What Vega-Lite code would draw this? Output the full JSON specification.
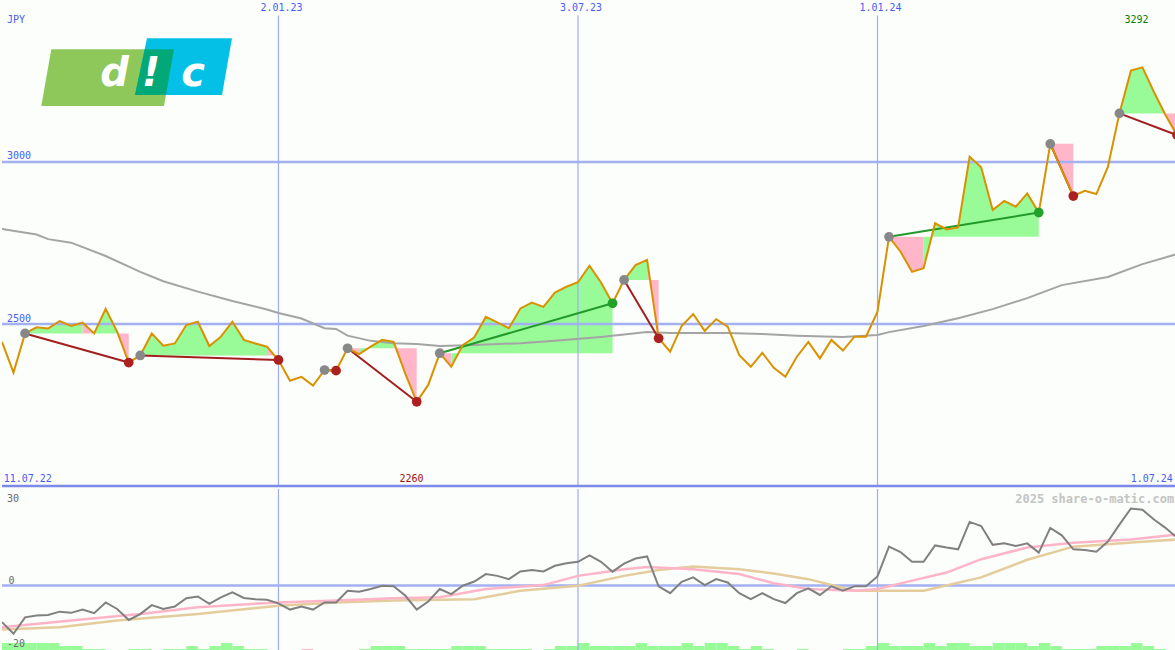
{
  "$schema": "https://vega.github.io/schema/vega-lite/v6.json",
  "background": "#fbfefb",
  "padding": 0,
  "spacing": 0,
  "config": {"view": {"stroke": null}},
  "datasets": {
    "wk": [
      {"d":"2022-07-18","p":2445,"mo":-12.3},{"d":"2022-07-25","p":2350,"mo":-16.2},{"d":"2022-08-01","p":2471,"mo":-10.7},{"d":"2022-08-08","p":2490,"mo":-10.1},
      {"d":"2022-08-15","p":2486,"mo":-9.9},{"d":"2022-08-22","p":2509,"mo":-8.8},{"d":"2022-08-29","p":2494,"mo":-9.2},{"d":"2022-09-05","p":2504,"mo":-8.1},
      {"d":"2022-09-12","p":2471,"mo":-9.3},{"d":"2022-09-19","p":2547,"mo":-5.7},{"d":"2022-09-26","p":2476,"mo":-7.9},{"d":"2022-10-03","p":2381,"mo":-11.6},
      {"d":"2022-10-10","p":2403,"mo":-9.6},{"d":"2022-10-17","p":2471,"mo":-6.6},{"d":"2022-10-24","p":2433,"mo":-7.9},{"d":"2022-10-31","p":2440,"mo":-7.1},
      {"d":"2022-11-07","p":2497,"mo":-4.3},{"d":"2022-11-14","p":2507,"mo":-3.7},{"d":"2022-11-21","p":2432,"mo":-6.2},{"d":"2022-11-28","p":2461,"mo":-4.0},
      {"d":"2022-12-05","p":2507,"mo":-2.3},{"d":"2022-12-12","p":2451,"mo":-4.2},{"d":"2022-12-19","p":2440,"mo":-4.6},{"d":"2022-12-26","p":2430,"mo":-4.8},
      {"d":"2023-01-02","p":2389,"mo":-6.0},{"d":"2023-01-09","p":2325,"mo":-8.1},{"d":"2023-01-16","p":2337,"mo":-7.1},{"d":"2023-01-23","p":2310,"mo":-8.1},
      {"d":"2023-01-30","p":2358,"mo":-5.7},{"d":"2023-02-06","p":2356,"mo":-5.7},{"d":"2023-02-13","p":2425,"mo":-1.8},{"d":"2023-02-20","p":2407,"mo":-2.1},
      {"d":"2023-02-27","p":2430,"mo":-1.2},{"d":"2023-03-06","p":2451,"mo":-0.1},{"d":"2023-03-13","p":2445,"mo":-0.3},{"d":"2023-03-20","p":2348,"mo":-3.4},
      {"d":"2023-03-27","p":2260,"mo":-8.1},{"d":"2023-04-03","p":2312,"mo":-5.4},{"d":"2023-04-10","p":2410,"mo":-1.2},{"d":"2023-04-17","p":2368,"mo":-2.9},
      {"d":"2023-04-24","p":2435,"mo":-0.1},{"d":"2023-05-01","p":2459,"mo":1.3},{"d":"2023-05-08","p":2522,"mo":3.8},{"d":"2023-05-15","p":2505,"mo":3.2},
      {"d":"2023-05-22","p":2487,"mo":2.1},{"d":"2023-05-29","p":2548,"mo":4.7},{"d":"2023-06-05","p":2566,"mo":5.2},{"d":"2023-06-12","p":2553,"mo":4.7},
      {"d":"2023-06-19","p":2597,"mo":6.6},{"d":"2023-06-26","p":2615,"mo":7.4},{"d":"2023-07-03","p":2629,"mo":7.9},{"d":"2023-07-10","p":2680,"mo":10.1},
      {"d":"2023-07-17","p":2628,"mo":7.9},{"d":"2023-07-24","p":2564,"mo":4.6},{"d":"2023-07-31","p":2636,"mo":7.3},{"d":"2023-08-07","p":2682,"mo":9.0},
      {"d":"2023-08-14","p":2698,"mo":9.7},{"d":"2023-08-21","p":2456,"mo":-0.3},{"d":"2023-08-28","p":2415,"mo":-2.6},{"d":"2023-09-04","p":2494,"mo":1.2},
      {"d":"2023-09-11","p":2531,"mo":2.7},{"d":"2023-09-18","p":2479,"mo":0.1},{"d":"2023-09-25","p":2515,"mo":2.1},{"d":"2023-10-02","p":2492,"mo":1.0},
      {"d":"2023-10-09","p":2404,"mo":-2.6},{"d":"2023-10-16","p":2368,"mo":-4.6},{"d":"2023-10-23","p":2411,"mo":-2.6},{"d":"2023-10-30","p":2365,"mo":-4.6},
      {"d":"2023-11-06","p":2337,"mo":-5.9},{"d":"2023-11-13","p":2399,"mo":-2.6},{"d":"2023-11-20","p":2445,"mo":-1.0},{"d":"2023-11-27","p":2394,"mo":-3.2},
      {"d":"2023-12-04","p":2451,"mo":-0.3},{"d":"2023-12-11","p":2418,"mo":-1.8},{"d":"2023-12-18","p":2461,"mo":-0.3},{"d":"2023-12-25","p":2461,"mo":-0.3},
      {"d":"2024-01-01","p":2538,"mo":3.0},{"d":"2024-01-08","p":2769,"mo":13.0},{"d":"2024-01-15","p":2723,"mo":11.2},{"d":"2024-01-22","p":2661,"mo":7.9},
      {"d":"2024-01-29","p":2672,"mo":7.9},{"d":"2024-02-05","p":2811,"mo":13.4},{"d":"2024-02-12","p":2792,"mo":12.7},{"d":"2024-02-19","p":2798,"mo":12.1},
      {"d":"2024-02-26","p":3016,"mo":21.3},{"d":"2024-03-04","p":2984,"mo":19.9},{"d":"2024-03-11","p":2852,"mo":13.6},{"d":"2024-03-18","p":2880,"mo":14.1},
      {"d":"2024-03-25","p":2862,"mo":13.2},{"d":"2024-04-01","p":2903,"mo":14.1},{"d":"2024-04-08","p":2844,"mo":11.0},{"d":"2024-04-15","p":3056,"mo":19.3},
      {"d":"2024-04-22","p":2975,"mo":16.8},{"d":"2024-04-29","p":2895,"mo":12.1},{"d":"2024-05-06","p":2911,"mo":11.9},{"d":"2024-05-13","p":2901,"mo":11.3},
      {"d":"2024-05-20","p":2985,"mo":14.7},{"d":"2024-05-27","p":3150,"mo":20.4},{"d":"2024-06-03","p":3282,"mo":25.8},{"d":"2024-06-10","p":3292,"mo":25.4},
      {"d":"2024-06-17","p":3216,"mo":22.1},{"d":"2024-06-24","p":3145,"mo":19.3},{"d":"2024-07-01","p":3083,"mo":16.0}
    ],
    "ma": [
      {"d":"2022-07-18","p":2793},{"d":"2022-08-08","p":2776},{"d":"2022-08-15","p":2762},{"d":"2022-08-29","p":2751},
      {"d":"2022-09-19","p":2710},{"d":"2022-10-10","p":2661},{"d":"2022-10-24","p":2632},{"d":"2022-11-14","p":2600},
      {"d":"2022-12-05","p":2571},{"d":"2022-12-26","p":2545},{"d":"2023-01-02","p":2534},{"d":"2023-01-16","p":2517},
      {"d":"2023-01-30","p":2487},{"d":"2023-02-06","p":2485},{"d":"2023-02-13","p":2464},{"d":"2023-02-27","p":2448},
      {"d":"2023-03-13","p":2441},{"d":"2023-03-27","p":2438},{"d":"2023-04-10","p":2432},{"d":"2023-05-01","p":2435},
      {"d":"2023-05-29","p":2441},{"d":"2023-06-19","p":2448},{"d":"2023-07-17","p":2460},{"d":"2023-08-14","p":2475},
      {"d":"2023-08-28","p":2472},{"d":"2023-10-02","p":2472},{"d":"2023-10-23","p":2469},{"d":"2023-11-13","p":2464},
      {"d":"2023-12-11","p":2460},{"d":"2024-01-01","p":2466},{"d":"2024-01-08","p":2475},{"d":"2024-01-29","p":2494},
      {"d":"2024-02-19","p":2518},{"d":"2024-03-11","p":2546},{"d":"2024-04-01","p":2580},{"d":"2024-04-22","p":2620},
      {"d":"2024-05-20","p":2645},{"d":"2024-06-10","p":2685},{"d":"2024-07-01","p":2716}
    ],
    "fill": [
      {"d":"2022-08-01","p":2471,"b":2471,"band":"A1","c":"g"},{"d":"2022-08-08","p":2490,"b":2471,"band":"A1","c":"g"},{"d":"2022-08-15","p":2486,"b":2471,"band":"A1","c":"g"},
      {"d":"2022-08-22","p":2509,"b":2471,"band":"A1","c":"g"},{"d":"2022-08-29","p":2494,"b":2471,"band":"A1","c":"g"},{"d":"2022-09-05","p":2504,"b":2471,"band":"A1","c":"g"},
      {"d":"2022-09-05","p":2504,"b":2471,"band":"A2","c":"r"},{"d":"2022-09-12","p":2471,"b":2471,"band":"A2","c":"r"},
      {"d":"2022-09-12","p":2471,"b":2471,"band":"A3","c":"g"},{"d":"2022-09-19","p":2547,"b":2471,"band":"A3","c":"g"},{"d":"2022-09-26","p":2476,"b":2471,"band":"A3","c":"g"},
      {"d":"2022-09-26","p":2476,"b":2471,"band":"A4","c":"r"},{"d":"2022-10-03","p":2381,"b":2471,"band":"A4","c":"r"},
      {"d":"2022-10-10","p":2403,"b":2403,"band":"B1","c":"g"},{"d":"2022-10-17","p":2471,"b":2403,"band":"B1","c":"g"},{"d":"2022-10-24","p":2433,"b":2403,"band":"B1","c":"g"},
      {"d":"2022-10-31","p":2440,"b":2403,"band":"B1","c":"g"},{"d":"2022-11-07","p":2497,"b":2403,"band":"B1","c":"g"},{"d":"2022-11-14","p":2507,"b":2403,"band":"B1","c":"g"},
      {"d":"2022-11-21","p":2432,"b":2403,"band":"B1","c":"g"},{"d":"2022-11-28","p":2461,"b":2403,"band":"B1","c":"g"},{"d":"2022-12-05","p":2507,"b":2403,"band":"B1","c":"g"},
      {"d":"2022-12-12","p":2451,"b":2403,"band":"B1","c":"g"},{"d":"2022-12-19","p":2440,"b":2403,"band":"B1","c":"g"},{"d":"2022-12-26","p":2430,"b":2403,"band":"B1","c":"g"},
      {"d":"2022-12-26","p":2430,"b":2403,"band":"B2","c":"r"},{"d":"2023-01-02","p":2389,"b":2403,"band":"B2","c":"r"},
      {"d":"2023-02-13","p":2425,"b":2425,"band":"D1","c":"r"},{"d":"2023-02-20","p":2407,"b":2425,"band":"D1","c":"r"},
      {"d":"2023-02-20","p":2407,"b":2425,"band":"D2","c":"g"},{"d":"2023-02-27","p":2430,"b":2425,"band":"D2","c":"g"},{"d":"2023-03-06","p":2451,"b":2425,"band":"D2","c":"g"},{"d":"2023-03-13","p":2445,"b":2425,"band":"D2","c":"g"},
      {"d":"2023-03-13","p":2445,"b":2425,"band":"D3","c":"r"},{"d":"2023-03-20","p":2348,"b":2425,"band":"D3","c":"r"},{"d":"2023-03-27","p":2260,"b":2425,"band":"D3","c":"r"},
      {"d":"2023-04-10","p":2410,"b":2410,"band":"E1","c":"r"},{"d":"2023-04-17","p":2368,"b":2410,"band":"E1","c":"r"},
      {"d":"2023-04-17","p":2368,"b":2410,"band":"E2","c":"g"},{"d":"2023-04-24","p":2435,"b":2410,"band":"E2","c":"g"},{"d":"2023-05-01","p":2459,"b":2410,"band":"E2","c":"g"},
      {"d":"2023-05-08","p":2522,"b":2410,"band":"E2","c":"g"},{"d":"2023-05-15","p":2505,"b":2410,"band":"E2","c":"g"},{"d":"2023-05-22","p":2487,"b":2410,"band":"E2","c":"g"},
      {"d":"2023-05-29","p":2548,"b":2410,"band":"E2","c":"g"},{"d":"2023-06-05","p":2566,"b":2410,"band":"E2","c":"g"},{"d":"2023-06-12","p":2553,"b":2410,"band":"E2","c":"g"},
      {"d":"2023-06-19","p":2597,"b":2410,"band":"E2","c":"g"},{"d":"2023-06-26","p":2615,"b":2410,"band":"E2","c":"g"},{"d":"2023-07-03","p":2629,"b":2410,"band":"E2","c":"g"},
      {"d":"2023-07-10","p":2680,"b":2410,"band":"E2","c":"g"},{"d":"2023-07-17","p":2628,"b":2410,"band":"E2","c":"g"},{"d":"2023-07-24","p":2564,"b":2410,"band":"E2","c":"g"},
      {"d":"2023-07-31","p":2636,"b":2636,"band":"F1","c":"g"},{"d":"2023-08-07","p":2682,"b":2636,"band":"F1","c":"g"},{"d":"2023-08-14","p":2698,"b":2636,"band":"F1","c":"g"},
      {"d":"2023-08-14","p":2698,"b":2636,"band":"F2","c":"r"},{"d":"2023-08-21","p":2456,"b":2636,"band":"F2","c":"r"},
      {"d":"2024-01-08","p":2769,"b":2769,"band":"G1","c":"r"},{"d":"2024-01-15","p":2723,"b":2769,"band":"G1","c":"r"},{"d":"2024-01-22","p":2661,"b":2769,"band":"G1","c":"r"},{"d":"2024-01-29","p":2672,"b":2769,"band":"G1","c":"r"},
      {"d":"2024-01-29","p":2672,"b":2769,"band":"G2","c":"g"},{"d":"2024-02-05","p":2811,"b":2769,"band":"G2","c":"g"},{"d":"2024-02-12","p":2792,"b":2769,"band":"G2","c":"g"},
      {"d":"2024-02-19","p":2798,"b":2769,"band":"G2","c":"g"},{"d":"2024-02-26","p":3016,"b":2769,"band":"G2","c":"g"},{"d":"2024-03-04","p":2984,"b":2769,"band":"G2","c":"g"},
      {"d":"2024-03-11","p":2852,"b":2769,"band":"G2","c":"g"},{"d":"2024-03-18","p":2880,"b":2769,"band":"G2","c":"g"},{"d":"2024-03-25","p":2862,"b":2769,"band":"G2","c":"g"},
      {"d":"2024-04-01","p":2903,"b":2769,"band":"G2","c":"g"},{"d":"2024-04-08","p":2844,"b":2769,"band":"G2","c":"g"},
      {"d":"2024-04-15","p":3056,"b":3056,"band":"H1","c":"r"},{"d":"2024-04-22","p":2975,"b":3056,"band":"H1","c":"r"},{"d":"2024-04-29","p":2895,"b":3056,"band":"H1","c":"r"},
      {"d":"2024-05-27","p":3150,"b":3150,"band":"I1","c":"g"},{"d":"2024-06-03","p":3282,"b":3150,"band":"I1","c":"g"},{"d":"2024-06-10","p":3292,"b":3150,"band":"I1","c":"g"},
      {"d":"2024-06-17","p":3216,"b":3150,"band":"I1","c":"g"},{"d":"2024-06-24","p":3150,"b":3150,"band":"I1","c":"g"},
      {"d":"2024-06-24","p":3145,"b":3150,"band":"I2","c":"r"},{"d":"2024-07-01","p":3083,"b":3150,"band":"I2","c":"r"}
    ],
    "trend": [
      {"d":"2022-08-01","p":2471,"seg":"A","dir":"down"},{"d":"2022-10-03","p":2381,"seg":"A","dir":"down"},
      {"d":"2022-10-10","p":2403,"seg":"B","dir":"down"},{"d":"2023-01-02","p":2389,"seg":"B","dir":"down"},
      {"d":"2023-01-30","p":2358,"seg":"C","dir":"down"},{"d":"2023-02-06","p":2356,"seg":"C","dir":"down"},
      {"d":"2023-02-13","p":2425,"seg":"D","dir":"down"},{"d":"2023-03-27","p":2260,"seg":"D","dir":"down"},
      {"d":"2023-04-10","p":2410,"seg":"E","dir":"up"},{"d":"2023-07-24","p":2564,"seg":"E","dir":"up"},
      {"d":"2023-07-31","p":2636,"seg":"F","dir":"down"},{"d":"2023-08-21","p":2456,"seg":"F","dir":"down"},
      {"d":"2024-01-08","p":2769,"seg":"G","dir":"up"},{"d":"2024-04-08","p":2844,"seg":"G","dir":"up"},
      {"d":"2024-04-15","p":3056,"seg":"H","dir":"down"},{"d":"2024-04-29","p":2895,"seg":"H","dir":"down"},
      {"d":"2024-05-27","p":3150,"seg":"I","dir":"down"},{"d":"2024-07-01","p":3083,"seg":"I","dir":"down"}
    ],
    "dots": [
      {"d":"2022-08-01","p":2471,"k":"start"},{"d":"2022-10-03","p":2381,"k":"down"},
      {"d":"2022-10-10","p":2403,"k":"start"},{"d":"2023-01-02","p":2389,"k":"down"},
      {"d":"2023-01-30","p":2358,"k":"start"},{"d":"2023-02-06","p":2356,"k":"down"},
      {"d":"2023-02-13","p":2425,"k":"start"},{"d":"2023-03-27","p":2260,"k":"down"},
      {"d":"2023-04-10","p":2410,"k":"start"},{"d":"2023-07-24","p":2564,"k":"up"},
      {"d":"2023-07-31","p":2636,"k":"start"},{"d":"2023-08-21","p":2456,"k":"down"},
      {"d":"2024-01-08","p":2769,"k":"start"},{"d":"2024-04-08","p":2844,"k":"up"},
      {"d":"2024-04-15","p":3056,"k":"start"},{"d":"2024-04-29","p":2895,"k":"down"},
      {"d":"2024-05-27","p":3150,"k":"start"},{"d":"2024-07-01","p":3083,"k":"down"}
    ],
    "vgrid": [
      {"d":"2023-01-02","lab":"2.01.23"},{"d":"2023-07-03","lab":"3.07.23"},{"d":"2024-01-01","lab":"1.01.24"}
    ],
    "hgrid": [{"p":3000},{"p":2500}],
    "labL": [
      {"d":"2022-07-21","p":3438,"t":"JPY"},{"d":"2022-07-21","p":3018,"t":"3000"},
      {"d":"2022-07-21","p":2515,"t":"2500"},{"d":"2022-07-19","p":2022,"t":"11.07.22"}
    ],
    "labR": [{"d":"2024-06-28T12:00:00Z","p":2022,"t":"1.07.24"}],
    "labMax": [{"d":"2024-06-06T10:00:00Z","p":3438,"t":"3292"}],
    "labMin": [{"d":"2023-03-23T19:00:00Z","p":2022,"t":"2260"}],
    "logo": [
      {"d":"2022-10-07T17:30:00Z","p":3278,"part":"a"},
      {"d":"2022-10-07T17:30:00Z","p":3278,"part":"b"},
      {"d":"2022-10-07T17:30:00Z","p":3278,"part":"c"}
    ],
    "logoText": [
      {"d":"2022-09-24T08:40:00Z","p":3273,"t":"d"},
      {"d":"2022-10-16T13:00:00Z","p":3273,"t":"!"},
      {"d":"2022-11-11T01:30:00Z","p":3273,"t":"c"}
    ],
    "pinkl": [
      {"d":"2022-07-18","v":-14},{"d":"2022-08-29","v":-11.8},{"d":"2022-10-10","v":-9.6},{"d":"2022-11-14","v":-7.3},
      {"d":"2023-01-02","v":-5.7},{"d":"2023-02-06","v":-5.1},{"d":"2023-03-13","v":-4.3},{"d":"2023-04-10","v":-4},
      {"d":"2023-05-08","v":-1.2},{"d":"2023-06-12","v":0.1},{"d":"2023-07-03","v":3.2},{"d":"2023-07-31","v":5.4},
      {"d":"2023-08-14","v":6.2},{"d":"2023-09-11","v":5.4},{"d":"2023-10-09","v":3.8},{"d":"2023-10-30","v":0.7},
      {"d":"2023-11-20","v":-1.2},{"d":"2023-12-18","v":-1.8},{"d":"2024-01-01","v":-1.2},{"d":"2024-01-22","v":1.6},
      {"d":"2024-02-12","v":4.3},{"d":"2024-03-04","v":8.8},{"d":"2024-04-01","v":12.7},{"d":"2024-04-29","v":14.3},
      {"d":"2024-06-03","v":15.4},{"d":"2024-07-01","v":17.1}
    ],
    "tanl": [
      {"d":"2022-07-18","v":-14.8},{"d":"2022-08-22","v":-14},{"d":"2022-09-26","v":-11.8},{"d":"2022-11-14","v":-9.6},
      {"d":"2023-01-02","v":-6.8},{"d":"2023-02-06","v":-5.7},{"d":"2023-03-13","v":-5.1},{"d":"2023-05-01","v":-4.6},
      {"d":"2023-05-29","v":-1.8},{"d":"2023-07-03","v":-0.1},{"d":"2023-07-31","v":3.2},{"d":"2023-08-21","v":5.2},
      {"d":"2023-09-11","v":6.3},{"d":"2023-10-09","v":5.4},{"d":"2023-10-30","v":4},{"d":"2023-11-20","v":2.1},
      {"d":"2023-12-18","v":-1.8},{"d":"2024-01-29","v":-1.8},{"d":"2024-03-04","v":2.7},{"d":"2024-04-01","v":8.6},
      {"d":"2024-04-29","v":13},{"d":"2024-06-10","v":14.6},{"d":"2024-07-01","v":15.4}
    ],
    "bars": [
      {"d":"2022-07-18","e":"2022-07-25","lvl":3,"c":"g"},{"d":"2022-07-25","e":"2022-08-01","lvl":3,"c":"g"},{"d":"2022-08-01","e":"2022-08-08","lvl":3,"c":"g"},
      {"d":"2022-08-08","e":"2022-08-15","lvl":3,"c":"g"},{"d":"2022-08-15","e":"2022-08-22","lvl":3,"c":"g"},{"d":"2022-08-22","e":"2022-08-29","lvl":2,"c":"g"},
      {"d":"2022-08-29","e":"2022-09-05","lvl":2,"c":"g"},{"d":"2022-09-05","e":"2022-09-12","lvl":1,"c":"g"},{"d":"2022-09-12","e":"2022-09-19","lvl":1,"c":"g"},
      {"d":"2022-10-03","e":"2022-10-10","lvl":1,"c":"g"},{"d":"2022-10-10","e":"2022-10-17","lvl":1,"c":"g"},
      {"d":"2022-10-24","e":"2022-10-31","lvl":1,"c":"g"},{"d":"2022-10-31","e":"2022-11-07","lvl":1,"c":"g"},{"d":"2022-11-07","e":"2022-11-14","lvl":2,"c":"g"},
      {"d":"2022-11-14","e":"2022-11-21","lvl":1,"c":"g"},{"d":"2022-11-21","e":"2022-11-28","lvl":2,"c":"g"},{"d":"2022-11-28","e":"2022-12-05","lvl":3,"c":"g"},
      {"d":"2022-12-05","e":"2022-12-12","lvl":2,"c":"g"},{"d":"2022-12-12","e":"2022-12-19","lvl":1,"c":"g"},{"d":"2022-12-19","e":"2022-12-26","lvl":1,"c":"g"},
      {"d":"2023-01-16","e":"2023-01-23","lvl":1,"c":"r"},
      {"d":"2023-02-20","e":"2023-02-27","lvl":1,"c":"g"},{"d":"2023-02-27","e":"2023-03-06","lvl":2,"c":"g"},{"d":"2023-03-06","e":"2023-03-13","lvl":2,"c":"g"},
      {"d":"2023-03-13","e":"2023-03-20","lvl":2,"c":"g"},{"d":"2023-03-20","e":"2023-03-27","lvl":1,"c":"g"},{"d":"2023-03-27","e":"2023-04-03","lvl":1,"c":"g"},
      {"d":"2023-04-03","e":"2023-04-10","lvl":1,"c":"g"},{"d":"2023-04-10","e":"2023-04-17","lvl":1,"c":"g"},{"d":"2023-04-17","e":"2023-04-24","lvl":2,"c":"g"},
      {"d":"2023-04-24","e":"2023-05-01","lvl":2,"c":"g"},{"d":"2023-05-01","e":"2023-05-08","lvl":2,"c":"g"},{"d":"2023-05-08","e":"2023-05-15","lvl":1,"c":"g"},
      {"d":"2023-05-15","e":"2023-05-22","lvl":1,"c":"g"},{"d":"2023-05-22","e":"2023-05-29","lvl":1,"c":"g"},{"d":"2023-05-29","e":"2023-06-05","lvl":1,"c":"g"},
      {"d":"2023-06-12","e":"2023-06-19","lvl":1,"c":"g"},{"d":"2023-06-19","e":"2023-06-26","lvl":2,"c":"g"},{"d":"2023-06-26","e":"2023-07-03","lvl":2,"c":"g"},
      {"d":"2023-07-03","e":"2023-07-10","lvl":3,"c":"g"},{"d":"2023-07-10","e":"2023-07-17","lvl":2,"c":"g"},{"d":"2023-07-17","e":"2023-07-24","lvl":2,"c":"g"},
      {"d":"2023-07-24","e":"2023-07-31","lvl":2,"c":"g"},{"d":"2023-07-31","e":"2023-08-07","lvl":2,"c":"g"},{"d":"2023-08-07","e":"2023-08-14","lvl":3,"c":"g"},
      {"d":"2023-08-14","e":"2023-08-21","lvl":2,"c":"g"},{"d":"2023-08-21","e":"2023-08-28","lvl":2,"c":"g"},{"d":"2023-08-28","e":"2023-09-04","lvl":2,"c":"g"},
      {"d":"2023-09-04","e":"2023-09-11","lvl":3,"c":"g"},{"d":"2023-09-11","e":"2023-09-18","lvl":2,"c":"g"},{"d":"2023-09-18","e":"2023-09-25","lvl":3,"c":"g"},
      {"d":"2023-09-25","e":"2023-10-02","lvl":3,"c":"g"},{"d":"2023-10-02","e":"2023-10-09","lvl":2,"c":"g"},{"d":"2023-10-09","e":"2023-10-16","lvl":1,"c":"g"},
      {"d":"2023-10-16","e":"2023-10-23","lvl":2,"c":"g"},{"d":"2023-10-23","e":"2023-10-30","lvl":1,"c":"g"},
      {"d":"2023-11-13","e":"2023-11-20","lvl":1,"c":"g"},
      {"d":"2023-12-11","e":"2023-12-18","lvl":1,"c":"g"},{"d":"2023-12-18","e":"2023-12-25","lvl":1,"c":"g"},{"d":"2023-12-25","e":"2024-01-01","lvl":2,"c":"g"},
      {"d":"2024-01-01","e":"2024-01-08","lvl":3,"c":"g"},{"d":"2024-01-08","e":"2024-01-15","lvl":2,"c":"g"},{"d":"2024-01-15","e":"2024-01-22","lvl":2,"c":"g"},
      {"d":"2024-01-22","e":"2024-01-29","lvl":2,"c":"g"},{"d":"2024-01-29","e":"2024-02-05","lvl":3,"c":"g"},{"d":"2024-02-05","e":"2024-02-12","lvl":2,"c":"g"},
      {"d":"2024-02-12","e":"2024-02-19","lvl":3,"c":"g"},{"d":"2024-02-19","e":"2024-02-26","lvl":3,"c":"g"},{"d":"2024-02-26","e":"2024-03-04","lvl":2,"c":"g"},
      {"d":"2024-03-04","e":"2024-03-11","lvl":2,"c":"g"},{"d":"2024-03-11","e":"2024-03-18","lvl":3,"c":"g"},{"d":"2024-03-18","e":"2024-03-25","lvl":3,"c":"g"},
      {"d":"2024-03-25","e":"2024-04-01","lvl":3,"c":"g"},{"d":"2024-04-01","e":"2024-04-08","lvl":2,"c":"g"},{"d":"2024-04-08","e":"2024-04-15","lvl":3,"c":"g"},
      {"d":"2024-04-15","e":"2024-04-22","lvl":2,"c":"g"},{"d":"2024-04-22","e":"2024-04-29","lvl":1,"c":"g"},{"d":"2024-04-29","e":"2024-05-06","lvl":1,"c":"g"},
      {"d":"2024-05-06","e":"2024-05-13","lvl":1,"c":"g"},{"d":"2024-05-13","e":"2024-05-20","lvl":2,"c":"g"},{"d":"2024-05-20","e":"2024-05-27","lvl":2,"c":"g"},
      {"d":"2024-05-27","e":"2024-06-03","lvl":2,"c":"g"},{"d":"2024-06-03","e":"2024-06-10","lvl":3,"c":"g"},{"d":"2024-06-10","e":"2024-06-17","lvl":2,"c":"g"},
      {"d":"2024-06-17","e":"2024-06-24","lvl":1,"c":"g"}
    ],
    "labLo": [
      {"d":"2022-07-21","v":29,"t":"30"},{"d":"2022-07-22","v":1.5,"t":"0"},{"d":"2022-07-21","v":-19.7,"t":"-20"}
    ],
    "wm": [{"d":"2024-06-29T07:00:00Z","v":29,"t":"2025 share-o-matic.com"}]
  },
  "vconcat": [
    {
      "width": 1175,
      "height": 487,
      "encoding": {
        "x": {"field": "d", "type": "temporal", "axis": null,
              "scale": {"type": "utc", "domain": [{"year": 2022, "month": 7, "date": 18, "utc": true}, {"year": 2024, "month": 7, "date": 1, "utc": true}]}}
      },
      "resolve": {"scale": {"color": "independent"}},
      "layer": [
        {
          "data": {"name": "logo"},
          "mark": {"type": "point", "filled": true, "opacity": 1, "size": 40000, "strokeWidth": 0},
          "encoding": {
            "y": {"field": "p", "type": "quantitative", "axis": null, "scale": {"domain": [1997, 3500], "nice": false, "zero": false}},
            "shape": {"field": "part", "type": "nominal", "legend": null,
                      "scale": {"domain": ["a", "b", "c"], "range": ["M-0.852,-0.227L0.375,-0.227L0.275,0.34L-0.952,0.34Z", "M0.105,-0.337L0.955,-0.337L0.855,0.23L-0.015,0.23Z", "M0.082,-0.227L0.375,-0.227L0.294,0.23L-0.015,0.23Z"]}},
            "color": {"field": "part", "type": "nominal", "legend": null,
                      "scale": {"domain": ["a", "b", "c"], "range": ["#8ec85a", "#04c0e6", "#03a878"]}}
          }
        },
        {
          "data": {"name": "logoText"},
          "mark": {"type": "text", "font": "DejaVu Sans", "fontWeight": "bold", "fontStyle": "italic", "fontSize": 40, "color": "#ffffff", "align": "center", "baseline": "middle"},
          "encoding": {
            "y": {"field": "p", "type": "quantitative", "axis": null, "scale": {"domain": [1997, 3500], "nice": false, "zero": false}},
            "text": {"field": "t"}
          }
        },
        {
          "data": {"name": "fill"},
          "mark": {"type": "area", "opacity": 1, "clip": true},
          "encoding": {
            "y": {"field": "p", "type": "quantitative", "axis": null, "scale": {"domain": [1997, 3500], "nice": false, "zero": false}},
            "y2": {"field": "b"},
            "detail": {"field": "band"},
            "color": {"field": "c", "type": "nominal", "legend": null,
                      "scale": {"domain": ["g", "r"], "range": ["#98fb98", "#ffb6c8"]}}
          }
        },
        {
          "data": {"name": "hgrid"},
          "mark": {"type": "rule", "color": "#a3b1f2", "strokeWidth": 2.5},
          "encoding": {
            "x": null,
            "y": {"field": "p", "type": "quantitative", "axis": null, "scale": {"domain": [1997, 3500], "nice": false, "zero": false}}
          }
        },
        {
          "data": {"name": "vgrid"},
          "mark": {"type": "rule", "color": "#9eacf0", "strokeWidth": 1.2},
          "encoding": {
            "y": {"datum": 3452, "type": "quantitative", "axis": null, "scale": {"domain": [1997, 3500], "nice": false, "zero": false}},
            "y2": {"datum": 1997}
          }
        },
        {
          "data": {"values": [{"p": 2000}]},
          "mark": {"type": "rule", "color": "#7c88ea", "strokeWidth": 2.5},
          "encoding": {
            "x": null,
            "y": {"field": "p", "type": "quantitative", "axis": null, "scale": {"domain": [1997, 3500], "nice": false, "zero": false}}
          }
        },
        {
          "data": {"name": "ma"},
          "mark": {"type": "line", "color": "#a4a4a4", "strokeWidth": 2, "clip": true},
          "encoding": {
            "y": {"field": "p", "type": "quantitative", "axis": null, "scale": {"domain": [1997, 3500], "nice": false, "zero": false}}
          }
        },
        {
          "data": {"name": "trend"},
          "mark": {"type": "line", "strokeWidth": 2, "clip": true},
          "encoding": {
            "y": {"field": "p", "type": "quantitative", "axis": null, "scale": {"domain": [1997, 3500], "nice": false, "zero": false}},
            "detail": {"field": "seg"},
            "color": {"field": "dir", "type": "nominal", "legend": null,
                      "scale": {"domain": ["down", "up"], "range": ["#a31f1f", "#23992a"]}}
          }
        },
        {
          "data": {"name": "wk"},
          "mark": {"type": "line", "color": "#d99100", "strokeWidth": 2, "clip": true},
          "encoding": {
            "y": {"field": "p", "type": "quantitative", "axis": null, "scale": {"domain": [1997, 3500], "nice": false, "zero": false}}
          }
        },
        {
          "data": {"name": "dots"},
          "mark": {"type": "circle", "opacity": 1, "size": 95, "clip": true},
          "encoding": {
            "y": {"field": "p", "type": "quantitative", "axis": null, "scale": {"domain": [1997, 3500], "nice": false, "zero": false}},
            "color": {"field": "k", "type": "nominal", "legend": null,
                      "scale": {"domain": ["start", "down", "up"], "range": ["#888888", "#ad2020", "#22a02a"]}}
          }
        },
        {
          "data": {"name": "vgrid"},
          "mark": {"type": "text", "font": "DejaVu Sans Mono", "fontSize": 10, "color": "#4a5cf2", "align": "center", "baseline": "middle", "dx": 3},
          "encoding": {
            "y": {"datum": 3475, "type": "quantitative", "axis": null, "scale": {"domain": [1997, 3500], "nice": false, "zero": false}},
            "text": {"field": "lab"}
          }
        },
        {
          "data": {"name": "labL"},
          "mark": {"type": "text", "font": "DejaVu Sans Mono", "fontSize": 10, "color": "#4a5cf2", "align": "left", "baseline": "middle"},
          "encoding": {
            "y": {"field": "p", "type": "quantitative", "axis": null, "scale": {"domain": [1997, 3500], "nice": false, "zero": false}},
            "text": {"field": "t"}
          }
        },
        {
          "data": {"name": "labR"},
          "mark": {"type": "text", "font": "DejaVu Sans Mono", "fontSize": 10, "color": "#4a5cf2", "align": "right", "baseline": "middle"},
          "encoding": {
            "y": {"field": "p", "type": "quantitative", "axis": null, "scale": {"domain": [1997, 3500], "nice": false, "zero": false}},
            "text": {"field": "t"}
          }
        },
        {
          "data": {"name": "labMax"},
          "mark": {"type": "text", "font": "DejaVu Sans Mono", "fontSize": 10, "color": "#0a7a0a", "align": "center", "baseline": "middle"},
          "encoding": {
            "y": {"field": "p", "type": "quantitative", "axis": null, "scale": {"domain": [1997, 3500], "nice": false, "zero": false}},
            "text": {"field": "t"}
          }
        },
        {
          "data": {"name": "labMin"},
          "mark": {"type": "text", "font": "DejaVu Sans Mono", "fontSize": 10, "color": "#a01010", "align": "center", "baseline": "middle"},
          "encoding": {
            "y": {"field": "p", "type": "quantitative", "axis": null, "scale": {"domain": [1997, 3500], "nice": false, "zero": false}},
            "text": {"field": "t"}
          }
        }
      ]
    },
    {
      "width": 1175,
      "height": 163,
      "encoding": {
        "x": {"field": "d", "type": "temporal", "axis": null,
              "scale": {"type": "utc", "domain": [{"year": 2022, "month": 7, "date": 18, "utc": true}, {"year": 2024, "month": 7, "date": 1, "utc": true}]}}
      },
      "resolve": {"scale": {"y": "independent", "color": "independent"}},
      "layer": [
        {
          "data": {"name": "bars"},
          "mark": {"type": "rect", "opacity": 1},
          "encoding": {
            "x2": {"field": "e"},
            "y": {"field": "lvl", "type": "quantitative", "axis": null, "scale": {"domain": [0, 54.33], "nice": false, "zero": false}},
            "y2": {"datum": 0},
            "color": {"field": "c", "type": "nominal", "legend": null,
                      "scale": {"domain": ["g", "r"], "range": ["#98fb98", "#ffb6c8"]}}
          }
        },
        {
          "data": {"name": "vgrid"},
          "mark": {"type": "rule", "color": "#9eacf0", "strokeWidth": 1.2},
          "encoding": {}
        },
        {
          "data": {"values": [{"v": 0}]},
          "mark": {"type": "rule", "color": "#a3b1f2", "strokeWidth": 2.5},
          "encoding": {"x": null, "y": {"field": "v", "type": "quantitative", "axis": null, "scale": {"domain": [-22.33, 32.33], "nice": false, "zero": false}}}
        },
        {
          "data": {"name": "tanl"},
          "mark": {"type": "line", "color": "#e4cc9c", "strokeWidth": 2.5, "clip": true},
          "encoding": {"y": {"field": "v", "type": "quantitative", "axis": null, "scale": {"domain": [-22.33, 32.33], "nice": false, "zero": false}}}
        },
        {
          "data": {"name": "pinkl"},
          "mark": {"type": "line", "color": "#ffb4c8", "strokeWidth": 2.5, "clip": true},
          "encoding": {"y": {"field": "v", "type": "quantitative", "axis": null, "scale": {"domain": [-22.33, 32.33], "nice": false, "zero": false}}}
        },
        {
          "data": {"name": "wk"},
          "mark": {"type": "line", "color": "#808080", "strokeWidth": 2, "clip": true},
          "encoding": {"y": {"field": "mo", "type": "quantitative", "axis": null, "scale": {"domain": [-22.33, 32.33], "nice": false, "zero": false}}}
        },
        {
          "data": {"name": "labLo"},
          "mark": {"type": "text", "font": "DejaVu Sans Mono", "fontSize": 10, "color": "#6a6a6a", "align": "left", "baseline": "middle"},
          "encoding": {"y": {"field": "v", "type": "quantitative", "axis": null, "scale": {"domain": [-22.33, 32.33], "nice": false, "zero": false}}, "text": {"field": "t"}}
        },
        {
          "data": {"name": "wm"},
          "mark": {"type": "text", "font": "DejaVu Sans Mono", "fontSize": 12, "fontWeight": "bold", "color": "#c4c4c4", "align": "right", "baseline": "middle"},
          "encoding": {"y": {"field": "v", "type": "quantitative", "axis": null, "scale": {"domain": [-22.33, 32.33], "nice": false, "zero": false}}, "text": {"field": "t"}}
        }
      ]
    }
  ]
}
